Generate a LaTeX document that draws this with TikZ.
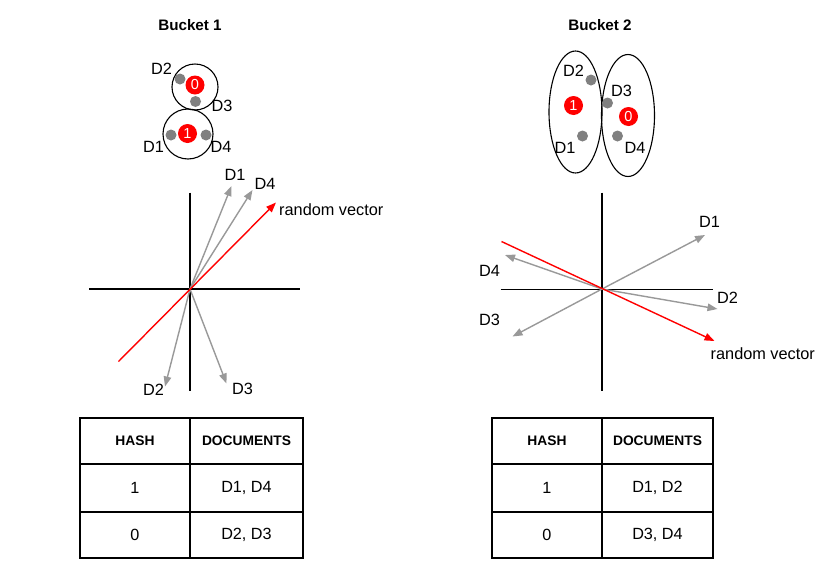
\documentclass[tikz,border=0pt]{standalone}
\usepackage{fontspec}
\setmainfont{Liberation Sans}
\usetikzlibrary{arrows.meta,shapes.geometric}
\definecolor{vgray}{HTML}{999999}
\definecolor{dgray}{HTML}{808080}
\definecolor{vred}{HTML}{FF0000}
\begin{document}
\begin{tikzpicture}[x=1pt,y=-1pt,
  lbl/.style={font=\fontsize{16.3}{19}\selectfont, inner sep=0pt},
  ttl/.style={font=\fontsize{15.2}{18}\selectfont\bfseries, inner sep=0pt},
  hdr/.style={font=\fontsize{13.8}{16}\selectfont\bfseries, inner sep=0pt},
  cell/.style={font=\fontsize{16.2}{19}\selectfont, inner sep=0pt},
  gdot/.style={circle, fill=dgray, minimum size=11pt, inner sep=0pt},
  rdot/.style={circle, fill=vred, text=white, minimum size=19pt, inner sep=0pt, font=\fontsize{14.5}{16}\selectfont},
  bucket/.style={draw=black, line width=1.1pt},
  axis/.style={draw=black, line width=1.3pt},
  dvec/.style={draw=vgray, line width=1.4pt, -{Triangle[length=10pt,width=7.5pt]}},
  rvec/.style={draw=vred, line width=1.4pt, -{Triangle[length=10pt,width=7.5pt]}},
  tbl/.style={draw=black, line width=1.3pt}]
\useasboundingbox (0,0) rectangle (828,568);
\fill[white] (0,0) rectangle (828,568);

% ---------- Bucket 1 ----------
\node[ttl] (t1) at (190,25) {Bucket 1};
\node[bucket, circle, minimum size=46pt, inner sep=0pt] (c10) at (195,87) {};
\node[bucket, circle, minimum size=50pt, inner sep=0pt] (c11) at (188,134) {};
\node[rdot] (r10) at (195,85) {0};
\node[rdot] (r11) at (187.5,133.5) {1};
\node[gdot] (g12) at (180,79) {};
\node[gdot] (g13) at (195.5,101.5) {};
\node[gdot] (g11) at (171,135) {};
\node[gdot] (g14) at (206,135) {};
\node[lbl] (l12) at (161.5,69) {D2};
\node[lbl] (l13) at (222,106) {D3};
\node[lbl] (l11) at (153.5,147) {D1};
\node[lbl] (l14) at (221,147) {D4};

% ---------- Bucket 2 ----------
\node[ttl] (t2) at (600,25) {Bucket 2};
\node[bucket, ellipse, minimum width=53pt, minimum height=122pt, inner sep=0pt] (e21) at (575.5,112) {};
\node[bucket, ellipse, minimum width=53pt, minimum height=122pt, inner sep=0pt] (e20) at (628,115.5) {};
\node[rdot] (r21) at (573.5,105.5) {1};
\node[rdot] (r20) at (628.5,116.5) {0};
\node[gdot] (g22) at (591,80) {};
\node[gdot] (g23) at (607.5,103) {};
\node[gdot] (g21) at (582.5,136) {};
\node[gdot] (g24) at (617.5,136) {};
\node[lbl] (l22) at (573.5,70.5) {D2};
\node[lbl] (l23) at (621.5,91) {D3};
\node[lbl] (l21) at (565,147.5) {D1};
\node[lbl] (l24) at (635,147.5) {D4};

% ---------- Axes 1 ----------
\coordinate (o1) at (190,289);
\coordinate (a1t) at (190,192.5);
\coordinate (a1b) at (190,390.5);
\coordinate (a1l) at (89,289);
\coordinate (a1r) at (300,289);
\draw[axis] (a1t) -- (a1b);
\draw[axis] (a1l) -- (a1r);
\coordinate (v11) at (231.5,186);
\coordinate (v14) at (252.5,190);
\coordinate (v12) at (165,386.5);
\coordinate (v13) at (226.5,383.5);
\coordinate (rt1) at (118.5,361.5);
\coordinate (rh1) at (276,202.5);
\draw[dvec] (o1) -- (v11);
\draw[dvec] (o1) -- (v14);
\draw[dvec] (o1) -- (v12);
\draw[dvec] (o1) -- (v13);
\draw[rvec] (rt1) -- (rh1);
\node[lbl] (m11) at (235,175) {D1};
\node[lbl] (m14) at (265,184) {D4};
\node[lbl] (m12) at (153.5,390) {D2};
\node[lbl] (m13) at (242.5,389) {D3};
\node[lbl, anchor=west] (rv1) at (279,209.5) {random vector};

% ---------- Axes 2 ----------
\coordinate (o2) at (602,289);
\coordinate (a2t) at (602,192.5);
\coordinate (a2b) at (602,390.5);
\coordinate (a2l) at (500.5,289.5);
\coordinate (a2r) at (712.5,289.5);
\draw[axis] (a2t) -- (a2b);
\draw[axis] (a2l) -- (a2r);
\coordinate (v21) at (705,235);
\coordinate (v24) at (505,255);
\coordinate (v22) at (717.5,309);
\coordinate (v23) at (512.5,336.5);
\coordinate (rt2) at (501.5,241.5);
\coordinate (rh2) at (714.5,341);
\draw[dvec] (o2) -- (v21);
\draw[dvec] (o2) -- (v24);
\draw[dvec] (o2) -- (v22);
\draw[dvec] (o2) -- (v23);
\draw[rvec] (rt2) -- (rh2);
\node[lbl] (n21) at (709.5,221.5) {D1};
\node[lbl] (n24) at (489.5,270.5) {D4};
\node[lbl] (n22) at (727.5,297.5) {D2};
\node[lbl] (n23) at (489.5,320) {D3};
\node[lbl, anchor=west] (rv2) at (710.5,353.5) {random vector};

% ---------- Table 1 ----------
\draw[tbl] (80,418) rectangle (303,558);
\draw[tbl] (80,464) -- (303,464);
\draw[tbl] (80,512) -- (303,512);
\draw[tbl] (190,418) -- (190,558);
\node[hdr] (h1a) at (135,441) {HASH};
\node[hdr] (h1b) at (246.5,441) {DOCUMENTS};
\node[cell] (c1a) at (135,488) {1};
\node[cell] (c1b) at (246.5,488) {D1, D4};
\node[cell] (c1c) at (135,535) {0};
\node[cell] (c1d) at (246.5,535) {D2, D3};

% ---------- Table 2 ----------
\draw[tbl] (492,418) rectangle (713,558);
\draw[tbl] (492,464) -- (713,464);
\draw[tbl] (492,512) -- (713,512);
\draw[tbl] (602,418) -- (602,558);
\node[hdr] (h2a) at (547,441) {HASH};
\node[hdr] (h2b) at (657.5,441) {DOCUMENTS};
\node[cell] (c2a) at (547,488) {1};
\node[cell] (c2b) at (657.5,488) {D1, D2};
\node[cell] (c2c) at (547,535) {0};
\node[cell] (c2d) at (657.5,535) {D3, D4};
\end{tikzpicture}
\end{document}
